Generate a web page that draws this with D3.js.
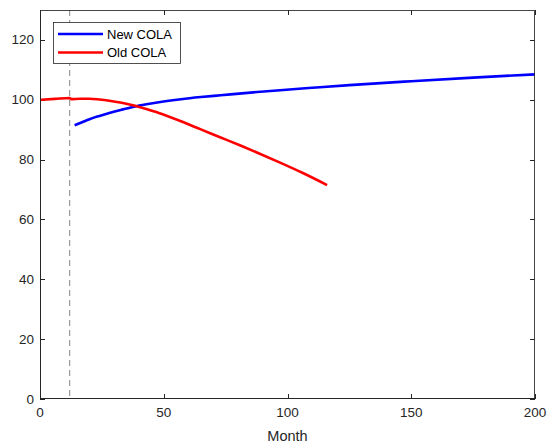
<!DOCTYPE html>
<html><head><meta charset="utf-8">
<script src="https://cdn.jsdelivr.net/npm/d3@7"></script>
<style>body{margin:0;background:#fff}svg{display:block}text{font-family:"Liberation Sans",Arial,sans-serif}</style>
</head><body>
<script>
const newMonths = [14,17,20,24,28,33,38,43,48,57,65,73,85,97,110,125,150,175,200];
const newValues = [91.5,92.5,93.5,94.6,95.6,96.7,97.7,98.5,99.2,100.2,100.9,101.5,102.4,103.2,104.0,104.9,106.2,107.4,108.5];
const oldMonths = [0,6,12,12.5,16,20,24,28,33,38,43,48,57,65,73,81,89,97,106,116];
const oldValues = [100.0,100.3,100.6,100.2,100.35,100.35,100.1,99.7,99.0,98.1,96.9,95.6,92.8,90.1,87.4,84.7,81.9,79.0,75.6,71.5];
const xTicks = [0,50,100,150,200];
const yTicks = [0,20,40,60,80,100,120];
const seriesNames = ["New COLA","Old COLA"];
const seriesColors = ["#0000ff","#ff0000"];
const markerMonth = 12;

const W=549,H=446;
const L=40,R=535,T=10,B=399;
const svg=d3.select("body").append("svg").attr("width",W).attr("height",H);
const x=d3.scaleLinear().domain([0,200]).range([L,R]);
const y=d3.scaleLinear().domain([0,130]).range([B,T]);
const axisCol="#262626";

svg.append("rect").attr("x",L).attr("y",T).attr("width",R-L).attr("height",B-T)
  .attr("fill","#fff").attr("stroke","none");

const ax=svg.append("g");
const tl=5;
xTicks.forEach(v=>{
  const px=Math.round(x(v))+0.5;
  ax.append("line").attr("x1",px).attr("x2",px).attr("y1",B).attr("y2",B-tl).attr("stroke",axisCol);
  ax.append("line").attr("x1",px).attr("x2",px).attr("y1",T).attr("y2",T+tl).attr("stroke",axisCol);
  ax.append("text").attr("x",x(v)).attr("y",B+18).attr("text-anchor","middle")
    .attr("font-size",13.5).attr("fill",axisCol).text(v);
});
yTicks.forEach(v=>{
  const py=Math.round(y(v))+0.5;
  ax.append("line").attr("x1",L).attr("x2",L+tl).attr("y1",py).attr("y2",py).attr("stroke",axisCol);
  ax.append("line").attr("x1",R).attr("x2",R-tl).attr("y1",py).attr("y2",py).attr("stroke",axisCol);
  ax.append("text").attr("x",L-6).attr("y",y(v)+4.5).attr("text-anchor","end")
    .attr("font-size",13.5).attr("fill",axisCol).text(v);
});
ax.append("text").attr("x",(L+R)/2).attr("y",441).attr("text-anchor","middle")
  .attr("font-size",14.5).attr("fill",axisCol).text("Month");

svg.append("line").attr("x1",x(markerMonth)).attr("x2",x(markerMonth)).attr("y1",T).attr("y2",B)
  .attr("stroke","#666").attr("stroke-width",0.8).attr("stroke-dasharray","6,4");

const line=d3.line().x(d=>x(d[0])).y(d=>y(d[1])).curve(d3.curveMonotoneX);
const series=[d3.zip(newMonths,newValues),d3.zip(oldMonths,oldValues)];
series.forEach((s,i)=>{
  svg.append("path").datum(s).attr("d",line).attr("fill","none")
    .attr("stroke",seriesColors[i]).attr("stroke-width",2.6).attr("stroke-linejoin","round");
});

svg.append("rect").attr("x",L+0.5).attr("y",T+0.5).attr("width",R-L-1).attr("height",B-T-1)
  .attr("fill","none").attr("stroke",axisCol).attr("stroke-opacity",0.85);
svg.append("line").attr("x1",L).attr("x2",R).attr("y1",B-0.5).attr("y2",B-0.5).attr("stroke",axisCol);
svg.append("line").attr("x1",L+0.5).attr("x2",L+0.5).attr("y1",T).attr("y2",B).attr("stroke",axisCol);

const lg=svg.append("g");
lg.append("rect").attr("x",53.5).attr("y",22.5).attr("width",127).attr("height",41)
  .attr("fill","#fff").attr("stroke",axisCol).attr("stroke-width",0.8);
seriesNames.forEach((n,i)=>{
  const yy=34+i*18.5;
  lg.append("line").attr("x1",58).attr("x2",103).attr("y1",yy).attr("y2",yy)
    .attr("stroke",seriesColors[i]).attr("stroke-width",2.6);
  lg.append("text").attr("x",107).attr("y",yy+4.5).attr("font-size",13).attr("fill","#000").text(n);
});
</script>
</body></html>
